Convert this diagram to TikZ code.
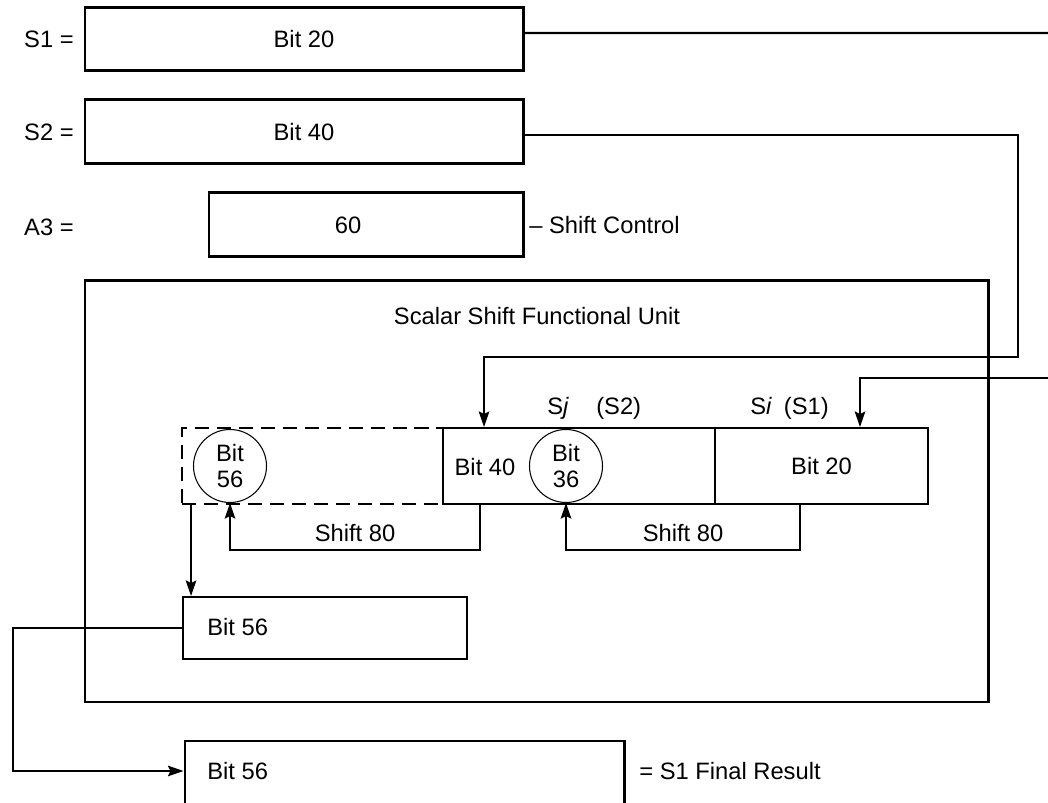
\documentclass[tikz,border=0pt]{standalone}
\usepackage{fontspec}
\setmainfont{Liberation Sans}
\usepackage{tikz}
\usetikzlibrary{positioning,arrows.meta,calc}

\begin{document}
\begin{tikzpicture}[
  every node/.style={font=\fontsize{13.5}{15}\selectfont,align=center,inner sep=0pt},
  word/.style={draw=black,line width=1.7pt},
  cell/.style={draw=black,line width=1.1pt,minimum height=1.52cm},
  bitcirc/.style={circle,draw=black,line width=0.6pt,minimum size=1.46cm},
  conn/.style={draw=black,line width=1.2pt},
  arrow/.style={conn,-{Stealth[length=3.1mm,width=2.1mm,inset=0.5mm]}}
]
  \useasboundingbox (0,0) rectangle (20.96,16.06);

  % 入力レジスタ
  \node[word,minimum width=8.76cm,minimum height=1.26cm] (s1) at (6.08,15.27) {Bit 20};
  \node[word,minimum width=8.76cm,minimum height=1.28cm] (s2) at (6.08,13.42) {Bit 40};
  \node[word,minimum width=6.28cm,minimum height=1.28cm] (a3) at (7.32,11.56) {};
  \node (cnt) at (6.96,11.56) {60};

  \node[anchor=east] (s1lab) at (1.48,15.27) {S1 =};
  \node[anchor=east] (s2lab) at (1.48,13.42) {S2 =};
  \node[anchor=east] (a3lab) at (1.48,11.52) {A3 =};
  \node[anchor=west] (ctl) at (10.58,11.56) {-- Shift Control};

  % シフト機能ユニットの枠
  \node[word,minimum width=18.06cm,minimum height=8.42cm] (unit) at (10.73,6.23) {};
  \node (title) at (10.74,9.74) {Scalar Shift Functional Unit};

  % レジスタの列
  \node[cell,dashed,dash pattern=on 8pt off 4.5pt,minimum width=5.22cm] (ext) at (6.25,6.74) {};
  \node[cell,minimum width=5.44cm] (sj) at (11.58,6.74) {};
  \node[cell,minimum width=4.26cm] (si) at (16.43,6.74) {Bit 20};

  \node (b40) at (9.70,6.72) {Bit 40};
  \node[bitcirc] (b56) at (4.60,6.74) {Bit\\56};
  \node[bitcirc] (b36) at (11.32,6.74) {Bit\\36};

  \node[anchor=west] (sjlab) at (10.94,7.90) {S\textit{j}\hspace{1.15em}(S2)};
  \node[anchor=west] (silab) at (15.00,7.90) {S\textit{i}\hspace{0.5em}(S1)};

  % シフト
  \draw[arrow] ([xshift=0.76cm]sj.south west) -- ++(0,-0.90) -| (b56.south);
  \draw[arrow] ([xshift=-0.43cm]si.south) -- ++(0,-0.90) -| (b36.south);
  \node (sh1) at (7.10,5.40) {Shift 80};
  \node (sh2) at (13.66,5.40) {Shift 80};

  % 結果
  \node[word,line width=1.1pt,minimum width=5.68cm,minimum height=1.24cm] (res) at (6.50,3.50) {};
  \node[anchor=west] (restxt) at (4.14,3.52) {Bit 56};
  \node[word,minimum width=8.78cm,minimum height=1.40cm] (fin) at (8.09,0.54) {};
  \node[anchor=west] (fintxt) at (4.14,0.64) {Bit 56};
  \node[anchor=west] (finlab) at (12.78,0.64) {= S1 Final Result};

  % 接続線
  \coordinate (s1out) at (20.96,15.40);
  \coordinate (s1back) at (20.96,8.50);
  \coordinate (s2turn) at (20.36,8.92);
  \coordinate (loop) at (0.26,3.50);

  \draw[conn] ([yshift=0.13cm]s1.east) -- (s1out);
  \draw[arrow] (s1back) -| ([xshift=0.77cm]si.north);
  \draw[arrow] ([yshift=-0.06cm]s2.east) -| (s2turn) -| ([xshift=0.84cm]sj.north west);
  \draw[arrow] ([xshift=0.2cm]ext.south west) -- ([xshift=0.2cm]ext.south west |- res.north);
  \draw[arrow] (res.west) -- (loop) |- (fin.west |- fintxt);
\end{tikzpicture}
\end{document}
